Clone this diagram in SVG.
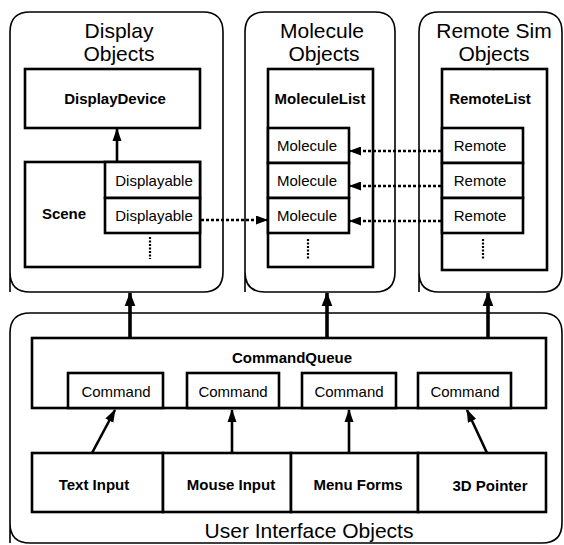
<svg xmlns="http://www.w3.org/2000/svg" width="564" height="545" viewBox="0 0 564 545">
<style>
.panel{fill:none;stroke:#000;stroke-width:1.6}
.box{fill:#fff;stroke:#000;stroke-width:2.6}
.title{font-family:"Liberation Sans",Arial,sans-serif;font-size:21px;text-anchor:middle;fill:#000}
.bold{font-family:"Liberation Sans",Arial,sans-serif;font-size:15px;font-weight:bold;text-anchor:middle;fill:#000}
.reg{font-family:"Liberation Sans",Arial,sans-serif;font-size:15px;text-anchor:middle;fill:#000}
.dots{stroke:#000;stroke-width:2.2;stroke-dasharray:2 1.5;fill:none}
.dash{stroke:#000;stroke-width:2.4;stroke-dasharray:3 2;fill:none}
.thick{stroke:#000;stroke-width:3.6;fill:none}
.thin{stroke:#000;stroke-width:2.6;fill:none}
</style>
<defs>
<marker id="big" markerUnits="userSpaceOnUse" markerWidth="14" markerHeight="18" refX="17" refY="7" orient="auto" viewBox="0 0 18 14"><path d="M0,0 L18,7 L0,14 Z" fill="#000"/></marker>
<marker id="mid" markerUnits="userSpaceOnUse" markerWidth="13" markerHeight="10" refX="12" refY="4.5" orient="auto" viewBox="0 0 13 9"><path d="M0,0 L13,4.5 L0,9 Z" fill="#000"/></marker>
<marker id="small" markerUnits="userSpaceOnUse" markerWidth="12" markerHeight="9" refX="11" refY="4.5" orient="auto" viewBox="0 0 12 9"><path d="M0,0 L12,4.5 L0,9 Z" fill="#000"/></marker>
</defs>

<g id="display-objects">
<path class="panel" d="M10,292 L10,32 Q10,12 30,12 L203,12 Q223,12 223,32 L223,272 Q223,292 203,292 L30,292 Q10,292 10,272 Z"/>
<text class="title" x="119" y="38">Display</text>
<text class="title" x="119" y="61">Objects</text>
</g>
<g id="display-device">
<rect class="box" x="25" y="69" width="175" height="59"/>
<text class="bold" x="115" y="104">DisplayDevice</text>
</g>
<g id="scene">
<rect class="box" x="25" y="162" width="175" height="105"/>
<text class="bold" x="64" y="219">Scene</text>
<rect class="box" x="105" y="162" width="95" height="36"/>
<text class="reg" x="154" y="186">Displayable</text>
<rect class="box" x="105" y="198" width="95" height="35"/>
<text class="reg" x="154" y="221">Displayable</text>
<line class="dots" x1="150" y1="237" x2="150" y2="259"/>
</g>

<g id="molecule-objects">
<path class="panel" d="M245,292 L245,32 Q245,12 265,12 L375,12 Q395,12 395,32 L395,272 Q395,292 375,292 L265,292 Q245,292 245,272 Z"/>
<text class="title" x="322" y="38">Molecule</text>
<text class="title" x="324" y="61">Objects</text>
</g>
<g id="molecule-list">
<rect class="box" x="268" y="69" width="105" height="198"/>
<text class="bold" x="320" y="104">MoleculeList</text>
<rect class="box" x="268" y="128" width="81" height="35"/>
<text class="reg" x="307" y="151">Molecule</text>
<rect class="box" x="268" y="163" width="81" height="35"/>
<text class="reg" x="307" y="186">Molecule</text>
<rect class="box" x="268" y="198" width="81" height="35"/>
<text class="reg" x="307" y="221">Molecule</text>
<line class="dots" x1="308" y1="239" x2="308" y2="260"/>
</g>

<g id="remote-sim-objects">
<path class="panel" d="M419,292 L419,32 Q419,12 439,12 L542,12 Q562,12 562,32 L562,272 Q562,292 542,292 L439,292 Q419,292 419,272 Z"/>
<text class="title" x="494" y="38">Remote Sim</text>
<text class="title" x="494" y="61">Objects</text>
</g>
<g id="remote-list">
<rect class="box" x="442" y="69" width="105" height="201"/>
<text class="bold" x="490" y="104">RemoteList</text>
<rect class="box" x="442" y="128" width="81" height="35"/>
<text class="reg" x="480" y="151">Remote</text>
<rect class="box" x="442" y="163" width="81" height="35"/>
<text class="reg" x="480" y="186">Remote</text>
<rect class="box" x="442" y="198" width="81" height="35"/>
<text class="reg" x="480" y="221">Remote</text>
<line class="dots" x1="483" y1="239" x2="483" y2="260"/>
</g>

<g id="user-interface-objects">
<path class="panel" d="M10,543 L10,333 Q10,313 30,313 L542,313 Q562,313 562,333 L562,523 Q562,543 542,543 L30,543 Q10,543 10,523 Z"/>
<text class="title" x="309" y="538">User Interface Objects</text>
</g>
<g id="command-queue">
<rect class="box" x="32" y="338" width="514" height="70"/>
<text class="bold" x="292" y="363">CommandQueue</text>
<rect class="box" x="68" y="373" width="95" height="35"/>
<text class="reg" x="116" y="397">Command</text>
<rect class="box" x="187" y="373" width="92" height="35"/>
<text class="reg" x="233" y="397">Command</text>
<rect class="box" x="302" y="373" width="94" height="35"/>
<text class="reg" x="349" y="397">Command</text>
<rect class="box" x="418" y="373" width="93" height="35"/>
<text class="reg" x="465" y="397">Command</text>
</g>
<g id="text-input">
<rect class="box" x="32" y="453" width="131" height="59"/>
<text class="bold" x="94" y="490">Text Input</text>
</g>
<g id="mouse-input">
<rect class="box" x="163" y="453" width="128" height="59"/>
<text class="bold" x="231" y="490">Mouse Input</text>
</g>
<g id="menu-forms">
<rect class="box" x="291" y="453" width="127" height="59"/>
<text class="bold" x="358" y="490">Menu Forms</text>
</g>
<g id="pointer-3d">
<rect class="box" x="418" y="453" width="128" height="59"/>
<text class="bold" x="490" y="491">3D Pointer</text>
</g>

<g id="connectors">
<line class="thin" x1="117" y1="162" x2="117" y2="129" marker-end="url(#mid)"/>
<line class="dash" x1="201" y1="220" x2="267" y2="220" marker-end="url(#small)"/>
<line class="dash" x1="441" y1="151" x2="350" y2="151" marker-end="url(#small)"/>
<line class="dash" x1="441" y1="186" x2="350" y2="186" marker-end="url(#small)"/>
<line class="dash" x1="441" y1="221" x2="350" y2="221" marker-end="url(#small)"/>
<line class="thick" x1="130" y1="337" x2="130" y2="293" marker-end="url(#big)"/>
<line class="thick" x1="327" y1="337" x2="327" y2="293" marker-end="url(#big)"/>
<line class="thick" x1="488" y1="337" x2="488" y2="293" marker-end="url(#big)"/>
<line class="thin" x1="92" y1="453" x2="115" y2="410" marker-end="url(#mid)"/>
<line class="thin" x1="232" y1="453" x2="232" y2="410" marker-end="url(#mid)"/>
<line class="thin" x1="349" y1="453" x2="349" y2="410" marker-end="url(#mid)"/>
<line class="thin" x1="487" y1="453" x2="467" y2="410" marker-end="url(#mid)"/>
</g>
</svg>
